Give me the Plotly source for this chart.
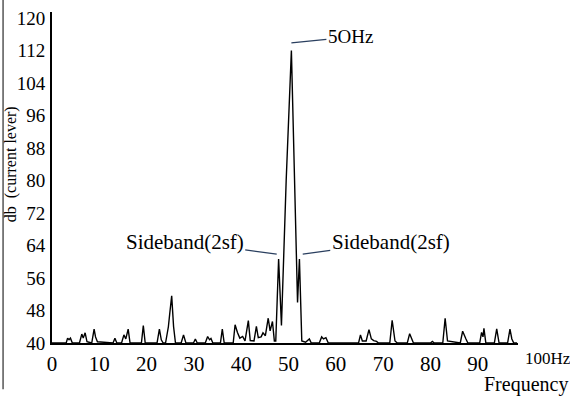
import plotly.graph_objects as go

# Spectrum readings (frequency in Hz, level in dB)
freq = [0, 3.0, 3.3, 3.6, 3.9, 4.3,
        5.8, 6.3, 6.6, 7.0, 7.4,
        8.4, 8.9, 9.2, 9.6,
        12.9, 13.3, 13.7,
        14.7, 15.2, 15.6, 16.1, 16.5,
        18.9, 19.3, 19.7,
        22.2, 22.7, 23.1, 23.5,
        24.0, 24.6, 24.9, 25.3, 25.7, 26.1,
        27.3, 27.8, 28.3,
        29.9, 30.3, 30.7,
        32.4, 32.9, 33.3, 33.6, 34.0,
        35.6, 36.0, 36.4,
        38.3, 38.7, 39.2, 39.7, 40.3, 40.8, 41.5, 41.9, 42.7, 43.2, 43.6,
        44.2, 44.6, 45.1, 45.7, 46.1, 46.6, 47.0, 47.3, 47.9, 48.5, 49.5,
        50.6, 51.9, 52.3, 52.8, 53.6, 54.4, 54.8,
        56.5, 57.0, 57.4, 57.9, 58.4,
        64.8, 65.2, 65.6, 66.4, 67.0, 67.5, 68.0, 68.6, 69.0,
        71.4, 71.9, 72.5, 73.0,
        75.1, 75.6, 76.0, 76.4,
        80.0, 80.4, 80.8,
        82.6, 83.1, 83.6,
        86.3, 86.8, 87.5, 87.9,
        90.4, 90.8, 91.1, 91.3, 91.7,
        93.5, 94.0, 94.5,
        96.3, 96.8, 97.2, 97.6, 98.3]
level = [40, 40, 41.2, 40.8, 41.2, 40,
         40, 42.2, 41.2, 42.5, 40.3,
         40, 43.4, 41.5, 40.3,
         40, 41.2, 40,
         40, 42, 41, 43.4, 40,
         40, 44.3, 40,
         40, 43.4, 40.8, 40,
         40, 44, 47.4, 51.6, 44, 40,
         40, 42, 40,
         40, 41, 40,
         40, 41.6, 40.8, 41.1, 40,
         40, 43.4, 40,
         40, 44.5, 42.6, 41.2, 41.6, 40.5, 45.5, 40.6, 40.5, 44.1, 41.3,
         41.5, 42.5, 41.8, 46.1, 43, 45.3, 40.5, 40.5, 60.7, 44.3, 80,
         112, 50, 60.7, 40.5, 40.2, 41, 40,
         40, 41.5, 41, 41.3, 40,
         40, 42, 40.5, 40.5, 43.3, 41, 40.6, 40.4, 40,
         40, 45.6, 40.5, 40,
         40, 42.3, 41.3, 40,
         40, 40.4, 40,
         40, 46.1, 40.5,
         40, 42.9, 41, 40,
         40, 42.6, 41.5, 43.6, 40,
         40, 43.5, 40,
         40, 43.4, 41, 40, 40]

y_ticks = [40, 48, 56, 64, 72, 80, 88, 96, 104, 112, 120]
x_ticks = [0, 10, 20, 30, 40, 50, 60, 70, 80, 90]

serif = "Liberation Serif"

def f(size):
    return dict(family=serif, size=size, color="black")

fig = go.Figure()
fig.add_trace(go.Scatter(x=freq, y=level, mode="lines",
                         line=dict(color="black", width=1.4),
                         hoverinfo="skip", showlegend=False))

fig.update_layout(
    width=570, height=397,
    margin=dict(l=52, r=52, t=12, b=54),
    paper_bgcolor="white", plot_bgcolor="white",
    font=f(18),
    xaxis=dict(range=[0, 98.5], tickvals=x_ticks, ticks="", showgrid=False,
               zeroline=False, showline=True, linecolor="black", linewidth=1.5,
               tickfont=f(21), ticklabelstandoff=1, automargin=False),
    yaxis=dict(range=[40, 121.5], tickvals=y_ticks, ticks="", showgrid=False,
               zeroline=False, showline=True, linecolor="black", linewidth=2,
               tickfont=f(19), ticklabelstandoff=1, automargin=False),
    annotations=[
        dict(xref="paper", yref="paper", x=-0.088, y=0.54, text="db  (current lever)",
             textangle=-90, showarrow=False, xanchor="center", yanchor="middle",
             font=f(16)),
        dict(x=50.6, y=113.9, text="5OHz", showarrow=True, arrowhead=0,
             arrowwidth=1.2, ax=59, ay=-6, font=f(19)),
        dict(x=47.5, y=61.9, text="Sideband(2sf)", showarrow=True, arrowhead=0,
             arrowwidth=1.2, ax=-92, ay=-12, font=f(21)),
        dict(x=53.0, y=61.9, text="Sideband(2sf)", showarrow=True, arrowhead=0,
             arrowwidth=1.2, ax=88, ay=-12, font=f(21)),
        dict(xref="paper", x=1.0, y=40, text="100Hz", showarrow=False,
             xanchor="left", yanchor="middle", yshift=-15, xshift=5,
             font=f(17)),
        dict(xref="paper", yref="paper", x=1.111, y=0, text="Frequency",
             showarrow=False, xanchor="right", yanchor="middle", yshift=-41,
             font=f(20)),
    ],
    shapes=[dict(type="line", xref="paper", yref="paper",
                 x0=-0.105, x1=-0.105, y0=-0.14, y1=1.036,
                 line=dict(color="#555555", width=1.5))],
)

fig.write_html("out.html", config={"displayModeBar": False},
               post_script="document.body.style.margin='0';document.body.style.padding='0';")
